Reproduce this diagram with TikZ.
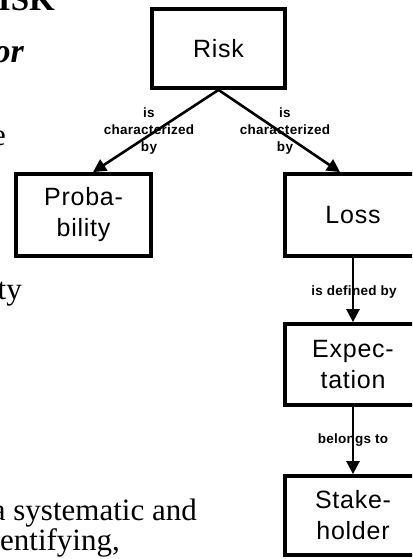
\documentclass[tikz,border=0pt]{standalone}
\usepackage{fontspec}
\setmainfont{Liberation Serif}
\newfontfamily\boxfont[LetterSpace=3]{Liberation Sans}
\newfontfamily\linkfont[LetterSpace=2]{Liberation Sans Bold}
\usetikzlibrary{arrows.meta}

\tikzset{
  concept/.style={draw, line width=3.8pt, inner sep=0pt, align=center,
    font=\boxfont\fontsize{25}{31}\selectfont},
  link/.style={line width=2.6pt, -{Triangle[length=13pt,width=13pt]}},
  linklabel/.style={inner sep=0pt, align=center,
    font=\linkfont\fontsize{13.5}{17}\selectfont},
  slidetext/.style={inner sep=0pt, font=\fontsize{31}{36}\selectfont},
}

\begin{document}
\begin{tikzpicture}[x=1pt,y=-1pt]
  \useasboundingbox (0,0) rectangle (412,559);
  \fill[white] (0,0) rectangle (412,559);
  \clip (0,0) rectangle (412,559);

  % slide text running behind the diagram
  \node[slidetext, anchor=base east, font=\bfseries\fontsize{33}{38}\selectfont] (title) at (55,11) {RISK};
  \node[slidetext, anchor=base east, font=\bfseries\itshape\fontsize{34}{38}\selectfont] (sub) at (24,63) {or};
  \node[slidetext, anchor=base east] (frag1) at (6,145) {e};
  \node[slidetext, anchor=base east] (frag2) at (22,299) {ty};
  \node[slidetext, anchor=base east] (frag3) at (197,520) {a systematic and};
  \node[slidetext, anchor=base east] (frag4) at (120,550) {entifying,};

  % concept boxes
  \node[concept, minimum width=133pt, minimum height=79pt] (risk) at (218.5,48.5) {Risk};
  \node[concept, minimum width=135pt, minimum height=82pt] (prob) at (83.5,215) {Proba-\\bility};
  \node[concept, minimum width=136pt, minimum height=82pt] (loss) at (353,215) {Loss};
  \node[concept, minimum width=136pt, minimum height=81pt] (expect) at (353,364.5) {Expec-\\tation};
  \node[concept, minimum width=136pt, minimum height=79pt] (stake) at (353,515.5) {Stake-\\holder};

  % relation labels
  \node[linklabel] (l1) at (149,131) {is\\characterized\\by};
  \node[linklabel] (l2) at (285,131) {is\\characterized\\by};
  \node[linklabel] (l3) at (354,292) {is defined by};
  \node[linklabel] (l4) at (353,440) {belongs to};

  % relations
  \draw[link] (risk.south) -- ([xshift=9.5pt]prob.north);
  \draw[link] (risk.south) -- ([xshift=-13pt]loss.north);
  \draw[link] (loss.south) -- (expect.north);
  \draw[link] (expect.south) -- (stake.north);
\end{tikzpicture}
\end{document}
